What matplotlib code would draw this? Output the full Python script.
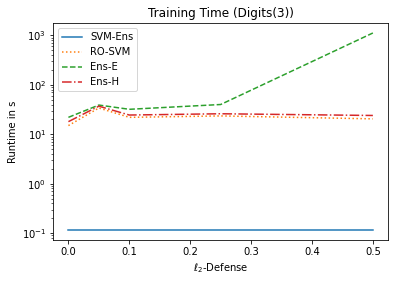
import numpy as np
import matplotlib
matplotlib.use('Agg')
import matplotlib.pyplot as plt

defense = [0.0, 0.05, 0.1, 0.25, 0.5]
svm_ens = [0.115, 0.115, 0.115, 0.115, 0.115]
ro_svm = [15, 34, 22, 23.5, 20.5]
ens_e = [22, 39, 32, 40, 1120]
ens_h = [18, 37, 24.5, 26, 24]

fig = plt.figure(figsize=(394 / 72, 282 / 72), dpi=72)
ax = fig.add_axes([0.135, 0.149, 0.85, 0.769])

ax.plot(defense, svm_ens, '-', label='SVM-Ens')
ax.plot(defense, ro_svm, ':', label='RO-SVM')
ax.plot(defense, ens_e, '--', label='Ens-E')
ax.plot(defense, ens_h, '-.', label='Ens-H')

ax.set_yscale('log')
ax.set_title('Training Time (Digits(3))')
ax.set_xlabel(r'$\ell_2$-Defense')
ax.set_ylabel('Runtime in s')
ax.legend(loc='upper left')

fig.savefig('out.png', dpi=72)
